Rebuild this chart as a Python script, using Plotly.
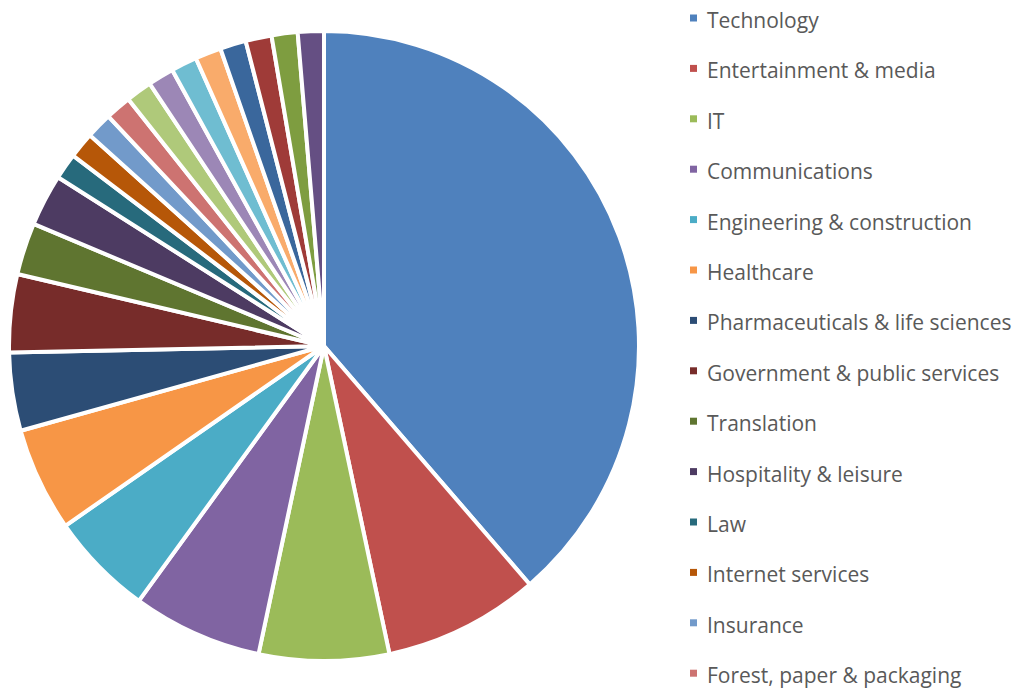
import plotly.graph_objects as go

# Industry breakdown (number of entries per sector)
sectors = [
    "Technology", "Entertainment & media", "IT", "Communications",
    "Engineering & construction", "Healthcare", "Pharmaceuticals & life sciences",
    "Government & public services", "Translation", "Hospitality & leisure",
    "Law", "Internet services", "Insurance", "Forest, paper & packaging",
    "Financial services", "Retail", "Automotive", "Energy & utilities",
    "Education", "Manufacturing", "Consumer goods", "Transportation",
]
counts = [29, 6, 5, 5, 4, 4, 3, 3, 2, 2, 1, 1, 1, 1, 1, 1, 1, 1, 1, 1, 1, 1]

# Office-style palette: base, darker, lighter and mid shades
palette = [
    "#4F81BD", "#C0504D", "#9BBB59", "#8064A2", "#4BACC6", "#F79646",
    "#2C4D75", "#772C2A", "#5F7530", "#4D3B62", "#276A7C", "#B65708",
    "#729ACA", "#CD7371", "#AFC97A", "#9C87B6", "#6FBDD1", "#F9AB6B",
    "#3A679C", "#9F3B38", "#7E9D40", "#654F83",
]

W, H = 1017, 689
cx, cy, r = 324, 346, 315

fig = go.Figure(
    go.Pie(
        labels=sectors,
        values=counts,
        sort=False,
        direction="clockwise",
        rotation=0,
        textinfo="none",
        hoverinfo="label+value+percent",
        marker=dict(colors=palette, line=dict(color="white", width=4)),
        domain=dict(x=[(cx - r) / W, (cx + r) / W], y=[1 - (cy + r) / H, 1 - (cy - r) / H]),
        showlegend=False,
    )
)

# Hand-built legend on the right (only the rows that fit on the page)
row0, step = 20, 50.4
shapes, annotations = [], []
for i, (name, col) in enumerate(zip(sectors, palette)):
    y = row0 + i * step
    if y > H:
        break
    shapes.append(dict(
        type="rect", xref="paper", yref="paper",
        x0=690 / W, x1=697 / W, y0=1 - (y + 1.5) / H, y1=1 - (y - 5.5) / H,
        fillcolor=col, line=dict(width=0),
    ))
    annotations.append(dict(
        text=name, xref="paper", yref="paper", x=705 / W, y=1 - y / H,
        xanchor="left", yanchor="middle", showarrow=False,
        font=dict(family="Open Sans", size=21, color="#595959"),
    ))

fig.update_layout(
    width=W, height=H,
    margin=dict(l=0, r=0, t=0, b=0),
    paper_bgcolor="white", plot_bgcolor="white",
    shapes=shapes, annotations=annotations,
)

fig.write_html("out.html")
